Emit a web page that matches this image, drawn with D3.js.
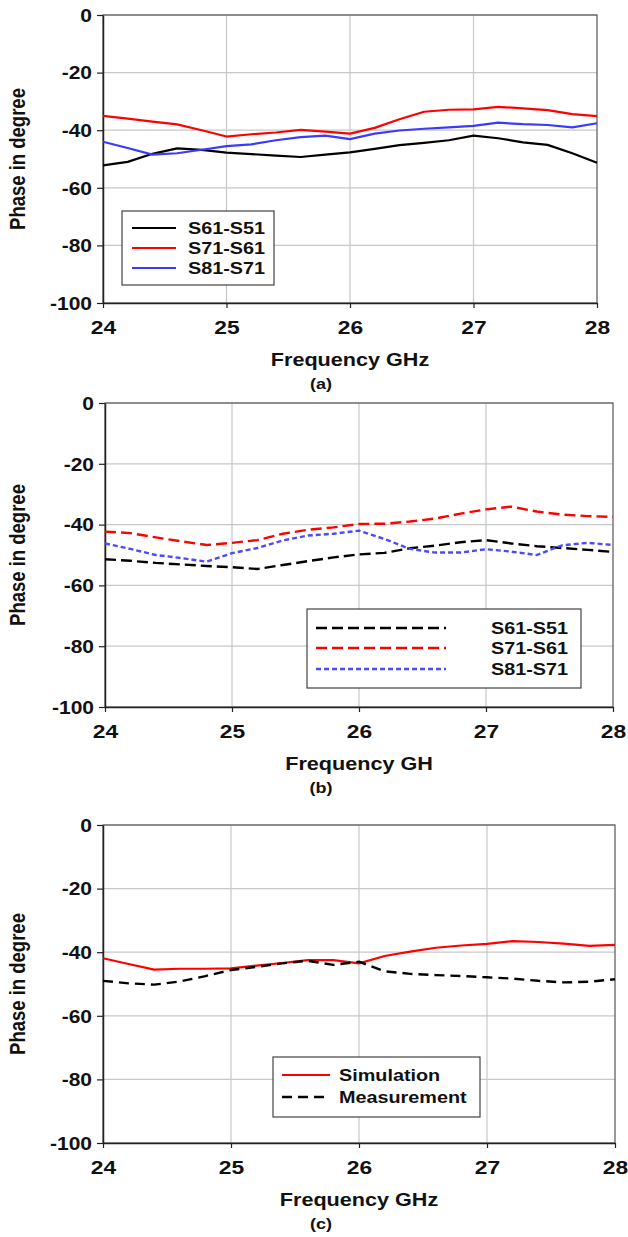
<!DOCTYPE html>
<html>
<head>
<meta charset="utf-8">
<script src="https://cdn.jsdelivr.net/npm/d3@7"></script>
<style>
  html, body { margin: 0; padding: 0; background: #fff; }
  svg { display: block; font-family: "Liberation Sans", Arial, sans-serif; font-weight: bold; }
</style>
</head>
<body>
<div id="chart"></div>
<script>
// --- --- --- Data --- --- ---

const freq = [24.0, 24.2, 24.4, 24.6, 24.8, 25.0, 25.2, 25.4, 25.6, 25.8, 26.0,
              26.2, 26.4, 26.6, 26.8, 27.0, 27.2, 27.4, 27.6, 27.8, 28.0];
const xTicks = [24, 25, 26, 27, 28];
const yTicks = [0, -20, -40, -60, -80, -100];

// (a) simulation
const aS61S51 = [-52.2, -51.0, -48.2, -46.3, -46.8, -47.8, -48.3, -48.8, -49.3, -48.5, -47.7,
                 -46.5, -45.2, -44.4, -43.5, -41.9, -42.8, -44.2, -45.1, -48.0, -51.3];
const aS71S61 = [-35.0, -36.0, -37.0, -38.0, -40.0, -42.2, -41.4, -40.8, -39.9, -40.5, -41.2,
                 -39.2, -36.2, -33.6, -32.9, -32.8, -31.9, -32.4, -33.0, -34.4, -35.1];
const aS81S71 = [-44.0, -46.2, -48.5, -48.0, -46.8, -45.5, -44.9, -43.5, -42.4, -41.9, -43.1,
                 -41.2, -40.1, -39.5, -39.0, -38.5, -37.4, -37.9, -38.2, -39.0, -37.6];

// (b) measurement
const bS61S51 = [-51.4, -51.9, -52.6, -53.1, -53.6, -54.0, -54.6, -53.3, -52.0, -50.8, -49.8,
                 -49.3, -47.8, -46.9, -45.8, -45.1, -46.2, -47.1, -47.7, -48.3, -49.0];
const bS71S61 = [-42.3, -42.8, -44.2, -45.5, -46.7, -46.0, -45.1, -43.0, -41.7, -40.9, -39.8,
                 -39.7, -39.0, -38.0, -36.4, -35.0, -34.1, -35.7, -36.7, -37.2, -37.5];
const bS81S71 = [-46.2, -48.0, -50.0, -51.0, -52.2, -49.4, -47.7, -45.2, -43.6, -43.0, -42.0,
                 -44.7, -48.0, -49.2, -49.2, -48.1, -48.9, -50.0, -46.8, -46.0, -46.7];

// (c) simulation vs measurement
const cSimulation  = [-41.9, -43.7, -45.5, -45.2, -45.2, -45.1, -44.2, -43.4, -42.5, -42.5, -43.5,
                      -41.2, -39.8, -38.6, -37.9, -37.4, -36.5, -36.8, -37.3, -38.0, -37.7];
const cMeasurement = [-49.0, -49.8, -50.2, -49.2, -47.5, -45.6, -44.6, -43.5, -42.7, -44.0, -43.0,
                      -46.0, -46.8, -47.2, -47.5, -47.9, -48.3, -49.0, -49.5, -49.3, -48.5];

// --- --- --- Layout --- --- ---

const SX = 1.2; // the source figure is stretched horizontally

const panels = [
  {
    left: 103, right: 597, top: 15, bottom: 303, label: "(a)", xTitle: "Frequency GHz",
    series: [
      { name: "S61-S51", values: aS61S51, color: "#000000", dash: null, width: 2.2 },
      { name: "S71-S61", values: aS71S61, color: "#ff0000", dash: null, width: 2.2 },
      { name: "S81-S71", values: aS81S71, color: "#3a3aff", dash: null, width: 2.2 },
    ],
    legend: { x: 122, y: 211, w: 152, h: 74, lx1: 132, lx2: 176, tx: 188, rows: [228, 248, 268] }
  },
  {
    left: 105, right: 613, top: 403, bottom: 707, label: "(b)", xTitle: "Frequency GH",
    series: [
      { name: "S61-S51", values: bS61S51, color: "#000000", dash: "11,5", width: 2.4 },
      { name: "S71-S61", values: bS71S61, color: "#ff0000", dash: "11,5", width: 2.4 },
      { name: "S81-S71", values: bS81S71, color: "#4a4aff", dash: "5,3", width: 2.4 },
    ],
    legend: { x: 307, y: 609, w: 274, h: 79, lx1: 316, lx2: 446, tx: 491, rows: [628, 648, 669] }
  },
  {
    left: 103, right: 615, top: 825, bottom: 1143, label: "(c)", xTitle: "Frequency GHz",
    series: [
      { name: "Simulation", values: cSimulation, color: "#ff0000", dash: null, width: 2.2 },
      { name: "Measurement", values: cMeasurement, color: "#000000", dash: "10,6", width: 2.4 },
    ],
    legend: { x: 273, y: 1057, w: 207, h: 60, lx1: 282, lx2: 330, tx: 339, rows: [1075, 1097] }
  }
];

// --- --- --- Drawing --- --- ---

const svg = d3.select("#chart").append("svg")
  .attr("width", 628)
  .attr("height", 1237);

svg.append("rect").attr("width", 628).attr("height", 1237).attr("fill", "#fff");

// stretched text helper
function label(g, x, y, str, size, anchor, rotate) {
  const rot = rotate ? ` rotate(${rotate})` : "";
  const scale = rotate ? `scale(1,${SX})` : `scale(${SX},1)`;
  return g.append("text")
    .attr("transform", `translate(${x},${y})${rot} ${scale}`)
    .attr("text-anchor", anchor)
    .attr("font-size", size)
    .attr("fill", "#111")
    .text(str);
}

function drawPanel(p) {
  const x = d3.scaleLinear().domain([24, 28]).range([p.left, p.right]);
  const y = d3.scaleLinear().domain([-100, 0]).range([p.bottom, p.top]);
  const g = svg.append("g");

  // grid
  g.append("g").selectAll("line").data(xTicks.slice(1, -1)).join("line")
    .attr("x1", d => x(d)).attr("x2", d => x(d))
    .attr("y1", p.top).attr("y2", p.bottom)
    .attr("stroke", "#c8c8c8").attr("stroke-width", 1.2);
  g.append("g").selectAll("line").data(yTicks.slice(0, -1)).join("line")
    .attr("x1", p.left).attr("x2", p.right)
    .attr("y1", d => y(d)).attr("y2", d => y(d))
    .attr("stroke", "#c8c8c8").attr("stroke-width", 1.2);

  // frame
  g.append("rect")
    .attr("x", p.left).attr("y", p.top)
    .attr("width", p.right - p.left).attr("height", p.bottom - p.top)
    .attr("fill", "none").attr("stroke", "#555").attr("stroke-width", 1.2);

  // axes
  const ay = g.append("g")
    .attr("transform", `translate(${p.left},0)`)
    .call(d3.axisLeft(y).tickValues(yTicks).tickSize(6).tickSizeOuter(0).tickFormat(d => String(d)))
    .attr("font-family", null).attr("font-size", null);
  ay.select(".domain").attr("stroke", "#222").attr("stroke-width", 1.5);
  ay.selectAll(".tick line").attr("stroke", "#222").attr("stroke-width", 1.2);
  ay.selectAll(".tick text")
    .attr("x", 0).attr("dy", "0.36em")
    .attr("transform", `translate(-11,0) scale(${SX},1)`)
    .attr("font-size", 17.5).attr("fill", "#111");

  const ax = g.append("g")
    .attr("transform", `translate(0,${p.bottom})`)
    .call(d3.axisBottom(x).tickValues(xTicks).tickSize(5).tickSizeOuter(0).tickFormat(d => String(d)))
    .attr("font-family", null).attr("font-size", null);
  ax.select(".domain").attr("stroke", "#222").attr("stroke-width", 1.5);
  ax.selectAll(".tick line").attr("stroke", "#222").attr("stroke-width", 1.2);
  ax.selectAll(".tick text")
    .attr("y", 0).attr("dy", null)
    .attr("transform", `translate(0,31) scale(${SX},1)`)
    .attr("font-size", 19).attr("fill", "#111");

  // titles
  const cx = (p.left + p.right) / 2;
  label(g, cx, p.bottom + 63, p.xTitle, 18, "middle");
  label(g, 25, (p.top + p.bottom) / 2, "Phase in degree", 18.5, "middle", -90);
  label(g, 321, p.bottom + 86, p.label, 15, "middle");

  // series
  const line = d3.line()
    .x((d, i) => x(freq[i]))
    .y(d => y(d));
  g.append("g").selectAll("path").data(p.series).join("path")
    .attr("d", s => line(s.values))
    .attr("fill", "none")
    .attr("stroke", s => s.color)
    .attr("stroke-width", s => s.width)
    .attr("stroke-dasharray", s => s.dash)
    .attr("stroke-linejoin", "round");

  // legend
  const L = p.legend;
  const lg = g.append("g");
  lg.append("rect")
    .attr("x", L.x).attr("y", L.y).attr("width", L.w).attr("height", L.h)
    .attr("fill", "#fff").attr("stroke", "#444").attr("stroke-width", 1.2);
  p.series.forEach((s, i) => {
    lg.append("line")
      .attr("x1", L.lx1).attr("x2", L.lx2)
      .attr("y1", L.rows[i]).attr("y2", L.rows[i])
      .attr("stroke", s.color).attr("stroke-width", s.width)
      .attr("stroke-dasharray", s.dash);
    label(lg, L.tx, L.rows[i] + 6, s.name, 16.5, "start");
  });
}

panels.forEach(drawPanel);
</script>
</body>
</html>
